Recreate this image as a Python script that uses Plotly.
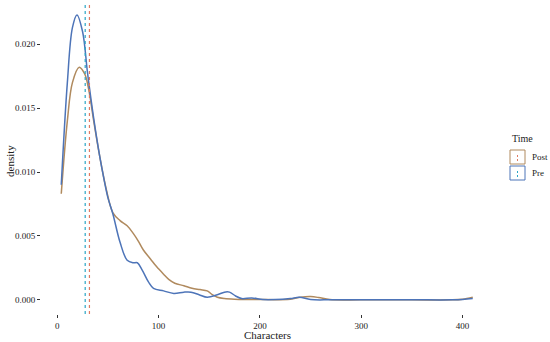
import plotly.graph_objects as go

# density curves (Characters vs density)
pre_x = [4, 10, 15, 19.5, 25, 30, 36, 42, 46, 50, 55, 62, 69, 75, 79, 84, 90, 95, 105, 115,
         125, 132, 140, 148, 158, 165, 170, 176, 182, 192, 203, 215, 230, 239, 250, 270,
         300, 350, 390, 400, 410]
pre_y = [0.0090, 0.0170, 0.0213, 0.0223, 0.0210, 0.0177, 0.0142, 0.0112, 0.0095, 0.0080,
         0.0067, 0.0045, 0.0031, 0.0029, 0.0029, 0.0023, 0.0014, 0.0009, 0.0007, 0.0005,
         0.0006, 0.0006, 0.0004, 0.0002, 0.0004, 0.0006, 0.0006, 0.0003, 0.0001, 0.00015,
         0.00002, 0.00002, 0.0001, 0.0002, 0.00002, 0.0, 0.0, 0.0, 0.0, 0.00003, 0.0001]

post_x = [4, 10, 15, 21.7, 27, 31, 36, 42, 48, 55, 62, 69, 75, 80, 85, 92, 98, 105, 110,
          116, 125, 133, 141, 148, 153, 158, 165, 175, 200, 230, 240, 250, 258, 269, 300,
          350, 390, 400, 410]
post_y = [0.0083, 0.0140, 0.0170, 0.0182, 0.0177, 0.0165, 0.0140, 0.0112, 0.0088, 0.0068,
          0.0062, 0.0058, 0.0052, 0.0046, 0.0039, 0.0032, 0.0026, 0.0020, 0.0016, 0.0013,
          0.0011, 0.0009, 0.0008, 0.0007, 0.0004, 0.0002, 0.0001, 0.00005, 0.00002, 0.00005,
          0.0002, 0.00025, 0.00018, 0.00002, 0.0, 0.0, 0.0, 0.00005, 0.0002]

groups = ["Post", "Pre"]
means = {"Post": 31.8, "Pre": 27.6}
line_cols = {"Post": "#B08A5E", "Pre": "#4D74B8"}
vline_cols = {"Post": "#E07A62", "Pre": "#2AA6C6"}

x_ticks = [0, 100, 200, 300, 400]
y_ticks = [0.000, 0.005, 0.010, 0.015, 0.020]

# plot panel in page pixels (body margin removed below)
PX0, PX1, PY0, PY1 = 41, 492, 2, 314


def px(x):
    return (x - PX0) / (PX1 - PX0)


def py(y):
    return (PY1 - y) / (PY1 - PY0)


fig = go.Figure()
curves = {"Post": (post_x, post_y), "Pre": (pre_x, pre_y)}
for g in groups:
    xs, ys = curves[g]
    fig.add_trace(go.Scatter(x=xs, y=ys, mode="lines", name=g, showlegend=False,
                             line=dict(color=line_cols[g], width=1.5, shape="spline", smoothing=1.0)))
    fig.add_vline(x=means[g], line=dict(color=vline_cols[g], width=1.2, dash="3px,3px"))

font = "Liberation Serif, Times New Roman, serif"
fig.update_layout(
    width=550, height=342,
    margin=dict(l=41, r=58, t=2, b=28),
    plot_bgcolor="white", paper_bgcolor="white",
    font=dict(family=font, size=9, color="#222"),
    showlegend=False,
)
fig.update_xaxes(range=[-16, 429], tickvals=x_ticks, showgrid=False, zeroline=False,
                 ticks="outside", ticklen=3, tickcolor="#333", automargin=False)
fig.update_yaxes(range=[-0.00111, 0.02331], tickvals=y_ticks, tickformat=".3f",
                 showgrid=False, zeroline=False, ticks="outside", ticklen=3, tickcolor="#333",
                 automargin=False)

# axis titles placed like the reference
fig.add_annotation(text="Characters", xref="paper", yref="paper", x=px(267), y=py(335),
                   xanchor="center", yanchor="middle", showarrow=False, font=dict(size=11))
fig.add_annotation(text="density", xref="paper", yref="paper", x=px(10), y=py(161),
                   textangle=-90, xanchor="center", yanchor="middle", showarrow=False,
                   font=dict(size=11))

# ggplot style legend: outlined key boxes with a short dashed line inside
fig.add_annotation(text="Time", xref="paper", yref="paper", x=px(510), y=py(138),
                   xanchor="left", yanchor="middle", showarrow=False, font=dict(size=10))
for i, g in enumerate(groups):
    top = 149 + i * 16
    fig.add_shape(type="rect", xref="paper", yref="paper",
                  x0=px(510), x1=px(525), y0=py(top + 15), y1=py(top + 1),
                  line=dict(color=line_cols[g], width=1), fillcolor="white")
    fig.add_shape(type="line", xref="paper", yref="paper",
                  x0=px(517.5), x1=px(517.5), y0=py(top + 12), y1=py(top + 4),
                  line=dict(color=vline_cols[g], width=1, dash="2px,2px"))
    fig.add_annotation(text=g, xref="paper", yref="paper", x=px(530), y=py(top + 8),
                       xanchor="left", yanchor="middle", showarrow=False, font=dict(size=9))

fig.write_html("out.html", config={"displayModeBar": False},
               post_script="document.body.style.margin='0';document.body.style.overflow='hidden';")
